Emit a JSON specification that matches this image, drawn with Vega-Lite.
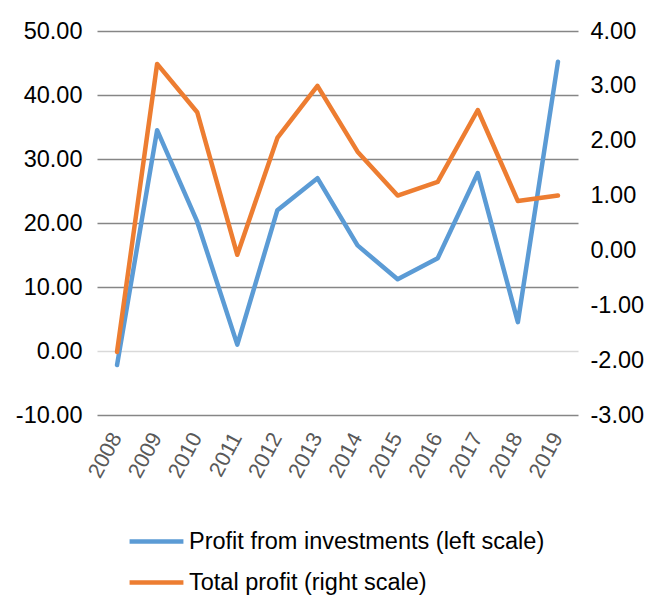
{
  "$schema": "https://vega.github.io/schema/vega-lite/v6.json",
  "autosize": "none",
  "width": 481,
  "height": 384,
  "padding": {"left": 97, "top": 31, "right": 73, "bottom": 200},
  "background": "white",
  "config": {
    "view": {"stroke": null},
    "font": "Liberation Sans",
    "axis": {"labelFont": "Liberation Sans"},
    "legend": {"labelFont": "Liberation Sans"}
  },
  "data": {
    "values": [
      {"year": "2008", "inv": -2.2, "total": -1.85},
      {"year": "2009", "inv": 34.5, "total": 3.4},
      {"year": "2010", "inv": 20.2, "total": 2.52},
      {"year": "2011", "inv": 1.0, "total": -0.08},
      {"year": "2012", "inv": 22.0, "total": 2.05},
      {"year": "2013", "inv": 27.0, "total": 3.0},
      {"year": "2014", "inv": 16.5, "total": 1.8},
      {"year": "2015", "inv": 11.2, "total": 1.0},
      {"year": "2016", "inv": 14.5, "total": 1.25},
      {"year": "2017", "inv": 27.8, "total": 2.56},
      {"year": "2018", "inv": 4.5, "total": 0.9},
      {"year": "2019", "inv": 45.2, "total": 1.0}
    ]
  },
  "encoding": {
    "x": {
      "field": "year",
      "type": "ordinal",
      "scale": {"type": "band", "paddingInner": 0, "paddingOuter": 0},
      "axis": {
        "title": null,
        "labelAngle": -62,
        "labelFontSize": 21.5,
        "labelColor": "#595959",
        "ticks": false,
        "domain": false,
        "labelPadding": 19
      }
    }
  },
  "layer": [
    {
      "mark": {"type": "line", "strokeWidth": 4.5, "strokeCap": "round", "strokeJoin": "round"},
      "encoding": {
        "y": {
          "field": "inv",
          "type": "quantitative",
          "scale": {"domain": [-10, 50], "nice": false, "zero": false},
          "axis": {
            "title": null,
            "orient": "left",
            "values": [-10, 0, 10, 20, 30, 40, 50],
            "labelExpr": "replace(format(datum.value, '.2f'), '\u2212', '-')",
            "labelFontSize": 23.5,
            "labelColor": "#000000",
            "ticks": false,
            "domain": false,
            "labelPadding": 15,
            "grid": true,
            "gridColor": {"condition": {"test": "datum.value === 0", "value": "#d9d9d9"}, "value": "#868686"},
            "gridWidth": 1.5
          }
        },
        "color": {
          "datum": "Profit from investments (left scale)",
          "type": "nominal",
          "scale": {
            "domain": ["Profit from investments (left scale)", "Total profit (right scale)"],
            "range": ["#5B9BD5", "#ED7D31"]
          },
          "legend": {
            "title": null,
            "orient": "none",
            "legendX": 30,
            "legendY": 481,
            "direction": "vertical",
            "symbolType": "stroke",
            "symbolStrokeWidth": 4.5,
            "symbolSize": 2900,
            "labelFontSize": 23.5,
            "labelColor": "#000000",
            "labelLimit": 0,
            "rowPadding": -4,
            "labelOffset": 3
          }
        }
      }
    },
    {
      "mark": {"type": "line", "strokeWidth": 4.5, "strokeCap": "round", "strokeJoin": "round"},
      "encoding": {
        "y": {
          "field": "total",
          "type": "quantitative",
          "scale": {"domain": [-3, 4], "nice": false, "zero": false},
          "axis": {
            "title": null,
            "orient": "right",
            "values": [-3, -2, -1, 0, 1, 2, 3, 4],
            "labelExpr": "replace(format(datum.value, '.2f'), '\u2212', '-')",
            "labelFontSize": 23.5,
            "labelColor": "#000000",
            "ticks": false,
            "domain": false,
            "labelPadding": 12,
            "grid": false
          }
        },
        "color": {"datum": "Total profit (right scale)", "type": "nominal"}
      }
    }
  ],
  "resolve": {"scale": {"y": "independent"}}
}
